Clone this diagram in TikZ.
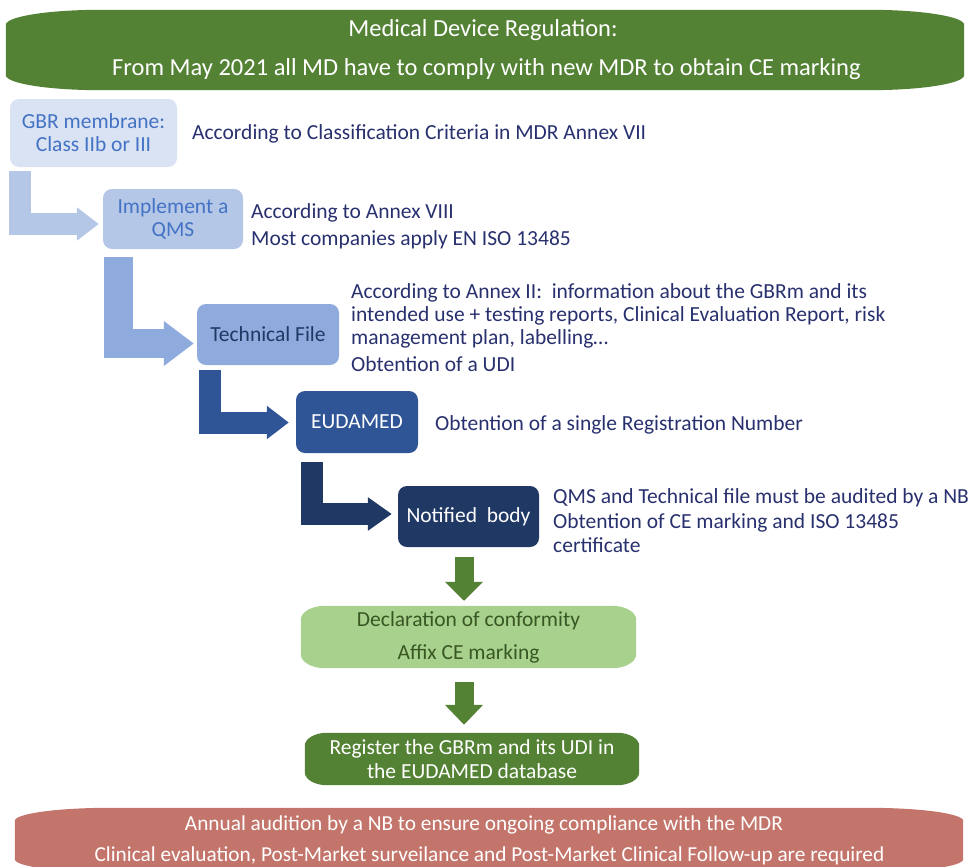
\documentclass[tikz,border=0pt]{standalone}
\usepackage{fontspec}
\setmainfont{Carlito}
\usetikzlibrary{arrows.meta,calc}
\pgfdeclarelayer{bg}
\pgfsetlayers{bg,main}
\definecolor{bgreen}{HTML}{548235}
\definecolor{lgreen}{HTML}{A9D18E}
\definecolor{dgtext}{HTML}{385723}
\definecolor{blueA}{HTML}{DAE3F3}
\definecolor{blueB}{HTML}{B4C7E7}
\definecolor{blueC}{HTML}{8FAADC}
\definecolor{blueD}{HTML}{2F5597}
\definecolor{blueE}{HTML}{1F3864}
\definecolor{mblue}{HTML}{4472C4}
\definecolor{navy}{RGB}{40,48,110}
\definecolor{rose}{RGB}{196,117,107}
\tikzset{
  box/.style={rounded corners=9pt, inner sep=0pt, align=center, font=\fontsize{21.5}{23}\selectfont},
  note/.style={anchor=base west, inner sep=0pt, text=navy, font=\fontsize{21.5}{23}\selectfont},
  bantext/.style={anchor=base, inner sep=0pt, text=white},
  larrow/.style={line join=miter, line cap=butt},
  frame/.style={inner sep=0pt, align=center},
}
% filled shape with elliptical corners around node #1, radii #2 (x) and #3 (y), colour #4
\newcommand\ellshape[4]{%
  \begin{pgfonlayer}{bg}
  \fill[#4] ($(#1.north west)+(#2,0)$) -- ($(#1.north east)+(-#2,0)$)
   .. controls ($(#1.north east)+({-#2*0.448},0)$) and ($(#1.north east)+(0,{#3*0.448})$) .. ($(#1.north east)+(0,#3)$)
   -- ($(#1.south east)+(0,-#3)$)
   .. controls ($(#1.south east)+(0,{-#3*0.448})$) and ($(#1.south east)+({-#2*0.448},0)$) .. ($(#1.south east)+(-#2,0)$)
   -- ($(#1.south west)+(#2,0)$)
   .. controls ($(#1.south west)+({#2*0.448},0)$) and ($(#1.south west)+(0,{-#3*0.448})$) .. ($(#1.south west)+(0,-#3)$)
   -- ($(#1.north west)+(0,#3)$)
   .. controls ($(#1.north west)+(0,{#3*0.448})$) and ($(#1.north west)+({#2*0.448},0)$) .. cycle;
  \end{pgfonlayer}}
\begin{document}
\begin{tikzpicture}[x=1pt,y=-1pt]
\useasboundingbox (0,0) rectangle (969,867);
% top banner
\node[frame, minimum width=958pt, minimum height=80pt] (top) at (485,50) {};
\ellshape{top}{95}{15}{bgreen}
\node[bantext, font=\fontsize{24.5}{26}\selectfont] (t1) at (483,37) {Medical Device Regulation:};
\node[bantext, font=\fontsize{24.5}{26}\selectfont] (t2) at (486.5,75) {From May 2021 all MD have to comply with new MDR to obtain CE marking};
% boxes
\node[box, fill=blueA, text=mblue, minimum width=167pt, minimum height=68pt] (gbr) at (93.5,133) {GBR membrane:\\Class IIb or III};
\node[box, fill=blueB, text=mblue, minimum width=140pt, minimum height=60pt] (qms) at (173,219) {Implement a\\QMS};
\node[box, fill=blueC, text=blueE, minimum width=142pt, minimum height=61pt] (tf) at (268,334.5) {Technical File};
\node[box, fill=blueD, text=white, minimum width=122pt, minimum height=62pt] (eud) at (357,422) {EUDAMED};
\node[box, fill=blueE, text=white, minimum width=141pt, minimum height=61pt] (nb) at (468.5,516.5) {Notified\ \ body};
\node[frame, text=dgtext, minimum width=335pt, minimum height=62pt, font=\fontsize{21.5}{33}\selectfont] (decl) at (468.5,637) {Declaration of conformity\\Affix CE marking};
\ellshape{decl}{24}{14}{lgreen}
\node[frame, text=white, minimum width=334pt, minimum height=52pt, font=\fontsize{21.5}{24}\selectfont] (reg) at (472,759) {Register the GBRm and its UDI in\\the EUDAMED database};
\ellshape{reg}{22}{13}{bgreen}
% notes
\node[note] (n1) at (192,139) {According to Classification Criteria in MDR Annex VII};
\node[note] (n2) at (251,218) {According to Annex VIII};
\node[note] (n3) at (251,245) {Most companies apply EN ISO 13485};
\node[note] (n4) at (351,298) {According to Annex II:\ \ information about the GBRm and its};
\node[note] (n5) at (351,321) {intended use + testing reports, Clinical Evaluation Report, risk};
\node[note] (n6) at (351,344) {management plan, labelling\ldots};
\node[note] (n7) at (351,371) {Obtention of a UDI};
\node[note] (n8) at (435,430) {Obtention of a single Registration Number};
\node[note] (n9) at (553,503) {QMS and Technical file must be audited by a NB};
\node[note] (n10) at (553,528) {Obtention of CE marking and ISO 13485};
\node[note] (n11) at (553,552) {certificate};
% L arrows
\draw[larrow, blueB, line width=22pt, -{Triangle[length=22pt,width=32pt]}] ($(gbr.south west)+(10,4)$) |- ($(qms.west)+(-4,5)$);
\draw[larrow, blueC, line width=29pt, -{Triangle[length=30pt,width=43pt]}] ($(qms.south west)+(15.5,8)$) |- ($(tf.west)+(-3,9)$);
\draw[larrow, blueD, line width=22pt, -{Triangle[length=22pt,width=32pt]}] ($(tf.south west)+(13.5,5)$) |- ($(eud.west)+(-7,0.5)$);
\draw[larrow, blueE, line width=22pt, -{Triangle[length=24pt,width=32pt]}] ($(eud.south west)+(16,9)$) |- ($(nb.west)+(-6,-2.5)$);
% green arrows
\draw[bgreen, line width=19pt, -{Triangle[length=19pt,width=37pt]}] ($(nb.south)+(-4.5,10)$) -- ($(decl.north)+(-4.5,-5)$);
\draw[bgreen, line width=19pt, -{Triangle[length=20pt,width=37pt]}] ($(decl.south)+(-4.5,14)$) -- ($(reg.north)+(-8,-8)$);
% bottom banner
\node[frame, minimum width=948pt, minimum height=64pt] (bot) at (489,840) {};
\ellshape{bot}{95}{13}{rose}
\node[bantext, font=\fontsize{21.3}{24}\selectfont] (b1) at (484,830) {Annual audition by a NB to ensure ongoing compliance with the MDR};
\node[bantext, font=\fontsize{21.3}{24}\selectfont] (b2) at (489.5,861) {Clinical evaluation, Post-Market surveilance and Post-Market Clinical Follow-up are required};
\end{tikzpicture}
\end{document}
